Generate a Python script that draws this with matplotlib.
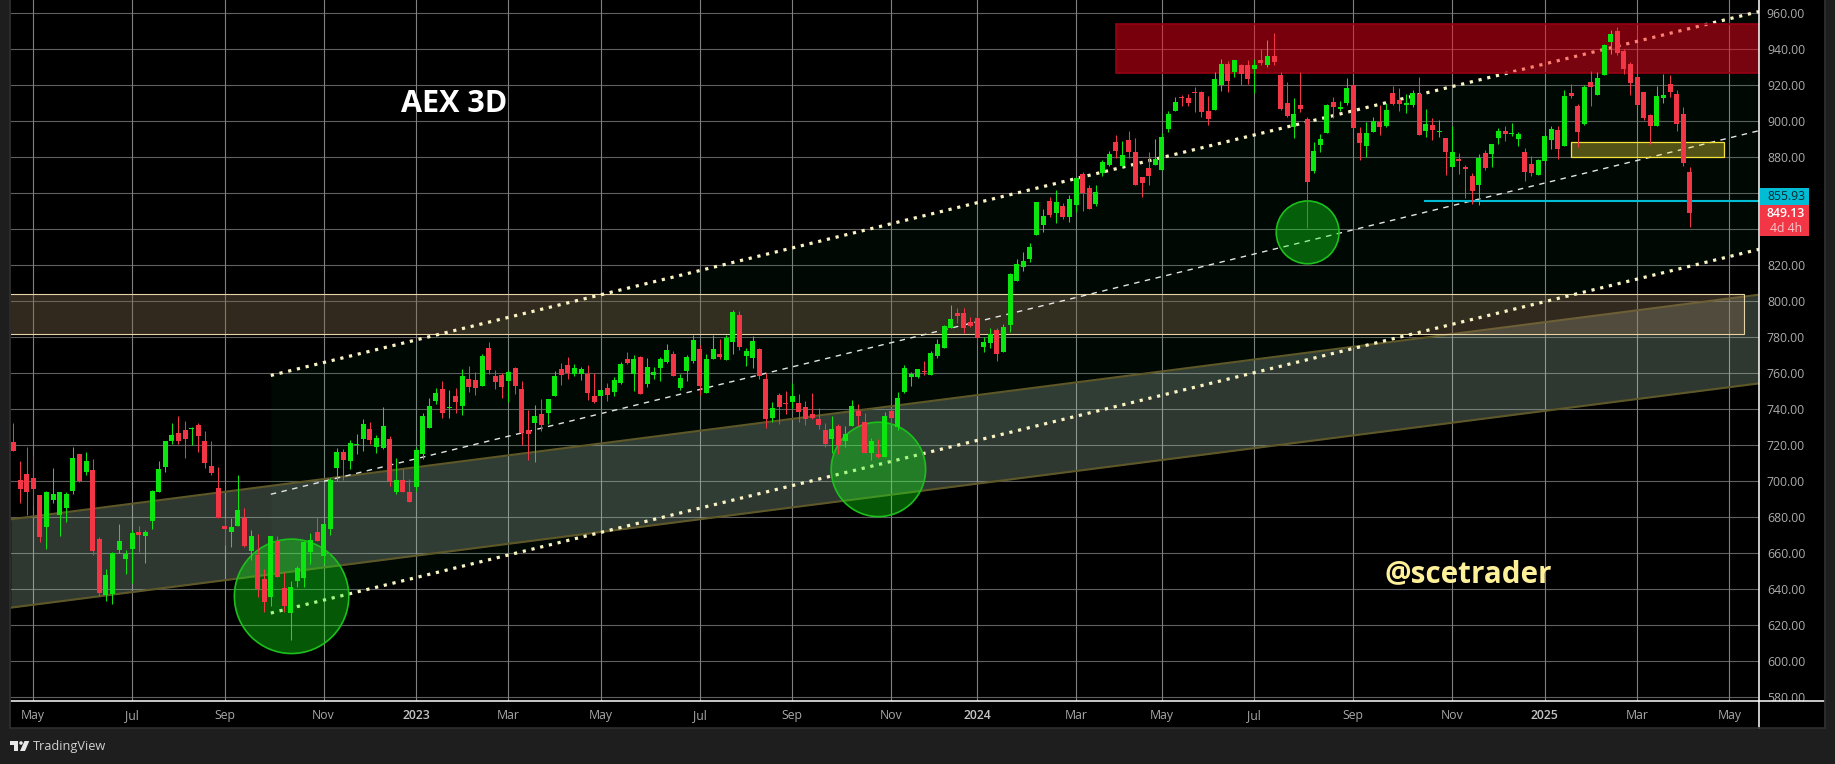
import matplotlib
matplotlib.use('Agg')
import matplotlib.pyplot as plt
import numpy as np
from matplotlib.patches import Rectangle, Ellipse, Polygon

W, H = 1835, 764
plt.rcParams['font.family'] = ['Open Sans', 'DejaVu Sans']

# AEX 3D candles. R = red, G = green
dirs = ("RRRRRGGGGGRGRRGGGGGRGGGGGRRGRRRRRGGRGRRGRRGGGGRGGGRGGGRGGRGRR"
        "GGGGRGRGRRGRRRGRRRGRGGRRGGRRGRGGRGRGGGGRGGGRGGRGGRGGRRGRRGRRRRRGR"
        "GGRRGRGRGGGGRGGGGRRRRGGRGGGGGGGRGRGGRRGGGRGRRRRGGGGRRRRRGGRGRRGRGRRRGRRGGGRGGRRGGRGRRGGRGRGRGRRRGRGGRGGRRGGGRGRRGRGGGRRRRRRGGRRRR")

highs = [732.6,711.3,719.1,714.6,692.4,694.6,707.4,694.1,694.1,719.1,
         715.2,716.3,712.4,669.1,651.3,660.7,676.3,661.9,673.0,675.2,
         673.0,695.2,711.3,722.4,732.4,736.3,733.5,730.2,732.4,728.0,
         722.4,708.0,679.6,679.6,703.5,685.2,673.0,670.7,651.3,669.6,
         669.6,649.6,644.6,653.0,666.9,671.3,680.2,676.7,701.9,718.5,
         718.0,723.0,726.3,734.6,733.0,725.7,741.3,725.2,713.0,706.9,
         701.3,719.1,738.0,746.3,751.9,755.7,750.7,751.9,762.4,764.1,
         760.7,770.7,777.4,761.9,760.2,761.9,763.5,755.7,739.6,742.4,
         745.7,745.7,761.3,765.7,769.1,765.2,763.5,764.6,760.2,750.7,
         754.6,758.0,766.3,771.9,770.2,769.6,768.5,763.5,769.1,776.3,
         772.4,759.6,770.2,781.3,775.7,770.7,781.3,779.1,781.3,795.2,
         794.6,774.1,780.7,774.1,760.2,744.1,749.1,750.2,754.6,748.5,
         744.6,749.1,740.7,732.4,736.3,731.9,730.8,745.2,743.0,738.0,
         724.1,723.5,738.5,740.8,749.7,764.7,760.8,762.4,766.9,772.4,
         779.1,786.9,798.0,796.3,796.3,791.3,791.9,780.2,785.2,785.2,
         787.4,815.8,823.5,827.4,832.4,855.2,851.3,858.0,861.9,854.6,
         859.1,869.1,871.9,864.6,864.6,878.5,883.5,892.4,889.1,894.6,
         890.7,869.1,883.0,890.2,893.3,905.7,913.5,914.6,915.2,919.1,
         916.9,914.1,927.4,934.6,933.5,934.1,931.9,934.1,934.6,940.2,
         945.2,949.1,927.4,921.9,913.0,927.4,902.4,888.5,893.0,909.6,
         913.5,911.3,924.1,920.2,896.9,899.6,902.4,909.1,910.2,919.6,
         918.5,915.2,917.4,924.6,906.9,901.9,900.7,890.7,897.4,882.4,
         875.7,871.3,881.9,884.1,887.4,896.3,897.4,899.1,894.1,885.2,
         880.7,879.1,893.0,897.4,897.4,917.4,920.7,909.6,920.2,928.0,
         927.4,943.0,950.7,952.4,940.2,933.0,932.4,916.3,904.1,919.6,
         926.3,925.7,917.4,908.0,874.6]

body_tops = [721.9,700.7,704.1,701.9,692.4,694.1,693.0,694.1,693.0,713.0,
             715.2,711.3,706.3,668.0,648.0,660.2,666.9,659.6,671.3,671.9,
             671.9,694.6,706.9,722.4,725.7,726.9,728.5,729.4,731.3,722.4,
             708.5,696.3,675.2,674.6,684.1,679.6,669.6,659.1,645.7,669.6,
             666.9,640.7,641.3,651.9,666.3,667.4,671.9,676.3,700.7,716.3,
             716.3,721.3,720.7,731.9,729.1,724.1,730.7,723.5,700.7,700.7,
             694.1,717.4,736.3,741.9,749.1,751.3,741.3,747.4,758.5,756.9,
             756.3,769.6,774.1,758.5,759.1,760.7,763.0,751.3,728.5,736.3,
             737.4,745.7,758.5,762.4,764.6,763.0,762.4,759.6,747.4,750.7,
             751.9,756.3,765.2,768.0,768.0,769.1,763.5,760.7,768.0,773.0,
             770.7,757.4,769.1,778.5,773.5,768.0,773.5,770.7,779.6,794.1,
             792.4,772.4,778.0,773.5,756.9,740.7,748.0,743.5,747.4,743.5,
             741.3,737.4,734.6,728.5,729.1,730.7,726.3,741.9,739.1,733.0,
             722.4,715.2,736.3,739.1,746.3,763.0,759.7,762.4,761.1,771.3,
             776.3,786.3,790.2,793.5,793.5,788.5,790.8,777.4,781.9,784.1,
             785.8,815.2,820.8,822.4,830.2,855.2,847.4,855.8,855.2,853.0,
             856.9,868.5,870.8,863.0,860.8,877.4,881.9,888.5,881.3,889.6,
             883.0,869.1,874.1,879.1,891.3,904.1,910.7,913.5,913.0,916.3,
             916.3,905.7,923.5,931.9,931.9,934.1,931.3,931.3,931.3,934.1,
             936.3,936.3,925.7,910.2,904.1,909.1,901.3,883.5,890.2,909.1,
             910.7,908.0,918.5,920.2,893.5,893.5,900.2,899.6,906.3,915.7,
             911.9,910.2,915.7,915.2,898.5,898.0,894.6,890.7,883.0,879.1,
             874.6,869.6,879.6,882.4,887.4,894.6,894.6,893.5,893.0,883.0,
             876.3,878.5,891.9,895.7,895.2,914.1,915.7,908.5,919.1,921.9,
             924.1,942.4,948.5,950.2,939.1,931.9,924.6,916.3,903.5,914.1,
             914.6,920.7,915.2,904.1,871.9]

body_bots = [716.9,695.7,694.1,695.7,669.1,674.6,689.6,681.3,685.2,694.6,
             700.0,705.2,661.3,638.0,636.9,637.4,661.9,656.9,662.4,670.2,
             669.6,678.0,694.1,708.0,722.4,722.4,723.5,728.9,725.2,710.2,
             704.6,679.8,673.5,671.9,675.2,664.1,661.3,640.2,633.0,635.7,
             646.9,630.7,626.9,644.6,646.3,660.7,666.9,658.5,673.5,707.4,
             711.9,711.3,720.2,723.5,723.0,719.1,718.5,700.0,694.1,694.1,
             688.5,696.9,715.2,729.6,744.6,738.0,740.7,744.1,741.9,752.4,
             751.9,753.0,761.9,755.2,752.4,755.7,753.0,726.9,726.3,732.4,
             731.3,738.0,747.4,759.1,760.2,759.6,759.6,749.1,744.1,747.4,
             748.0,749.6,754.6,765.7,759.6,748.5,754.1,759.1,763.0,766.3,
             758.5,751.9,761.3,766.9,753.0,749.1,768.0,769.1,767.4,777.4,
             774.6,769.6,768.5,758.5,734.6,735.2,741.3,743.0,744.1,738.5,
             734.6,735.2,731.3,720.7,723.5,720.2,722.4,730.8,736.3,715.8,
             715.8,713.5,713.5,735.2,730.2,749.7,758.0,758.0,760.8,759.1,
             769.6,774.1,785.2,791.9,785.2,786.3,779.6,774.6,776.9,770.8,
             771.9,786.9,811.3,819.1,823.5,836.9,842.4,848.0,849.1,846.9,
             846.9,853.5,860.2,851.3,854.1,871.3,875.8,883.5,875.2,883.0,
             864.6,865.7,869.6,875.7,873.0,895.7,905.7,913.0,910.2,915.8,
             905.2,901.3,906.3,920.2,922.4,927.4,926.3,923.5,929.1,932.2,
             931.3,933.0,906.9,903.0,896.9,906.9,866.3,872.4,886.9,893.5,
             908.0,906.9,910.2,896.3,888.0,886.3,894.1,896.9,897.4,909.6,
             909.6,909.1,909.1,892.4,894.6,895.2,894.0,883.0,874.6,878.0,
             873.5,861.3,864.6,874.1,881.9,890.7,893.0,893.0,890.2,871.9,
             871.3,870.2,878.0,889.6,884.6,886.3,914.1,894.1,898.5,919.1,
             914.6,925.7,944.1,938.0,929.1,921.3,909.1,901.9,897.4,897.4,
             913.0,916.3,898.5,876.9,849.13]

lows = [716.9,688.0,681.3,686.9,666.3,662.4,688.0,669.6,677.4,693.0,
        699.6,703.5,659.1,636.3,633.5,631.9,660.2,648.5,643.3,660.7,
        654.6,673.5,694.1,705.2,720.7,720.7,713.0,720.2,716.3,707.2,
        703.5,679.8,664.6,663.5,675.2,663.5,656.3,635.7,627.4,630.7,
        646.9,627.4,611.9,641.3,641.3,654.1,666.9,654.6,670.2,700.2,
        700.7,706.9,715.2,716.9,720.7,715.7,718.0,697.4,693.0,694.1,
        688.5,694.6,712.4,729.6,743.0,735.2,735.2,738.0,736.9,749.6,
        748.0,753.0,759.6,751.3,746.3,744.1,748.5,720.2,711.9,710.7,
        728.0,731.9,747.4,753.5,756.9,758.5,756.3,745.2,743.5,735.7,
        744.6,747.4,754.1,765.2,750.2,748.5,752.4,756.9,755.7,765.7,
        758.5,750.7,755.7,765.7,747.8,749.1,768.0,768.0,767.4,770.7,
        773.0,764.1,763.0,756.9,729.6,733.0,731.9,737.4,740.7,733.0,
        731.3,734.6,729.1,719.1,715.7,715.2,719.1,730.8,730.8,715.8,
        711.9,713.0,713.5,731.9,728.5,749.1,753.0,757.4,759.1,759.1,
        768.5,774.1,785.2,788.0,782.4,785.8,776.3,771.9,774.1,766.9,
        771.9,783.0,811.3,816.9,821.9,836.9,838.5,846.9,843.5,845.8,
        844.1,849.6,850.2,851.3,853.0,869.6,875.2,879.6,874.6,879.6,
        864.6,858.0,864.6,875.7,873.0,894.1,905.7,908.5,908.5,905.2,
        902.4,898.0,906.3,916.9,916.3,924.6,920.2,920.7,915.7,931.3,
        930.2,931.3,906.3,902.4,890.7,905.2,841.0,871.3,883.0,893.5,
        901.9,905.7,909.1,896.3,878.5,880.2,894.1,892.4,896.9,909.1,
        905.7,904.6,908.0,892.4,891.3,889.6,891.3,870.2,874.6,870.7,
        857.4,854.1,853.5,873.0,874.6,887.4,889.1,891.9,886.3,866.9,
        869.6,870.2,875.7,884.6,879.1,886.3,913.0,885.7,898.0,908.5,
        914.6,925.7,937.4,936.9,926.3,914.6,909.1,900.7,887.4,897.4,
        910.2,913.5,894.6,875.2,841.3]

price_ticks = list(range(580, 961, 20))
hidden_ticks = [840, 860]  # sit under the last price tags
month_pos = [3, 18, 32, 47, 61, 75, 89, 104, 118, 133, 146, 161, 174, 188, 203, 218, 232, 246, 260]
month_labels = ['May', 'Jul', 'Sep', 'Nov', '2023', 'Mar', 'May', 'Jul', 'Sep', 'Nov', '2024',
                'Mar', 'May', 'Jul', 'Sep', 'Nov', '2025', 'Mar', 'May']

# drawings on the chart
chan_x = [39, 264.5]
chan_top = [758.8, 961.0]
chan_mid = [692.8, 894.8]
chan_bot = [626.8, 828.9]
band_x = [-0.4, 264.5]
band_top = [678.9, 803.7]
band_bot = [629.8, 754.4]
circles = [(42.15, 636.1, 57.2), (131.06, 706.6, 47.2), (196.1, 838.3, 31.4)]  # idx, price, radius px

X0, DX = 13.4, 6.6        # px of candle 0, px per candle
Y0, DY = 13.3, 1.8        # px of 960, px per point
CHART_R, CHART_B, PANEL_R, FRAME_B = 1759, 701, 1824, 728
GREEN, RED = '#0ce60f', '#f23645'

def fx(px):
    return px / W

def fy(py):
    return 1 - py / H

def price_at(py):
    return 960 - (py - Y0) / DY

def idx_at(px):
    return (px - X0) / DX

fig = plt.figure(figsize=(W / 100, H / 100), dpi=100, facecolor='#1e1e1e')

ax = fig.add_axes([fx(11), fy(CHART_B), fx(CHART_R - 11), CHART_B / H])
ax_p = fig.add_axes([fx(CHART_R), fy(CHART_B), fx(PANEL_R - CHART_R), CHART_B / H])
ax_t = fig.add_axes([fx(11), fy(FRAME_B), fx(PANEL_R - 11), (FRAME_B - CHART_B) / H])

xlim = (idx_at(11), idx_at(CHART_R))
ylim = (price_at(CHART_B), price_at(0))
ax.set_xlim(xlim)
ax.set_ylim(ylim)
ax_p.set_ylim(ylim)
ax_p.set_xlim(0, 1)
ax_t.set_xlim(idx_at(11), idx_at(PANEL_R))
ax_t.set_ylim(0, 1)
for a in (ax, ax_p, ax_t):
    a.set_facecolor('black')
    a.set_xticks([])
    a.set_yticks([])
    for s in a.spines.values():
        s.set_visible(False)

# grid
for p in price_ticks:
    ax.axhline(p, color='#5f5f5f', lw=0.8, zorder=1)
for m in month_pos:
    ax.axvline(m, color='#808080', lw=0.8, zorder=1)

# channel fill and big rising band
ax.fill_between(chan_x, chan_bot, chan_top, color='#00a050', alpha=0.05, lw=0, zorder=1.5)
ax.fill_between(band_x, band_bot, band_top, color='#bcdcc4', alpha=0.25, lw=0, zorder=2)
ax.plot(band_x, band_top, color='#5e5828', lw=1.5, zorder=2.1)
ax.plot(band_x, band_bot, color='#5e5828', lw=1.5, zorder=2.1)

# brown box
ax.add_patch(Rectangle((idx_at(8), 781.7), idx_at(1743.7) - idx_at(8), 22.2, fc=(0.525, 0.431, 0.31, 0.38),
                       ec='#e6d4a8', lw=0.8, zorder=2.5))

# channel lines
for vals in (chan_top, chan_bot):
    ax.plot(chan_x, vals, color='#fbf3c4', lw=2.3, ls=(0, (1, 1.8)), dash_capstyle='butt', zorder=3)
ax.plot(chan_x, chan_mid, color='#e4e4e4', lw=1.0, ls=(0, (3.95, 3.95)), dash_capstyle='butt', zorder=3)

# red and yellow zones
ax.add_patch(Rectangle((idx_at(1116), 926.7), idx_at(1770) - idx_at(1116), 27.3, fc=(1, 0, 0.1, 0.47),
                       ec=(0.6, 0, 0.08, 0.9), lw=1.3, zorder=4))
ax.add_patch(Rectangle((idx_at(1571.3), 880.3), idx_at(1723.5) - idx_at(1571.3), 8.0, fc=(1, 0.92, 0.24, 0.33),
                       ec='#f5e33a', lw=0.9, zorder=4))

# green circles
for ci, cp, r in circles:
    ax.add_patch(Ellipse((ci, cp), 2 * r / DX, 2 * r / DY, fc=(0.06, 1, 0.08, 0.35), ec='#1cc01c', lw=1.2, zorder=4))

# cyan level
ax.plot([idx_at(1425), idx_at(CHART_R)], [855.93, 855.93], color='#00bcd4', lw=1.5, zorder=4.5)

# candles
x = np.arange(len(highs))
hi, lo, top, bot = map(np.array, (highs, lows, body_tops, body_bots))
up = np.array([d == 'G' for d in dirs])
for mask, col in ((up, GREEN), (~up, RED)):
    ax.vlines(x[mask], lo[mask], hi[mask], color=col, lw=0.75, zorder=5)
    ax.bar(x[mask], (top - bot)[mask], bottom=bot[mask], width=5 / DX, color=col, lw=0, zorder=6)

# price scale
for p in price_ticks:
    if p in hidden_ticks:
        continue
    ax_p.text(0.415, p - 0.6, '%.2f' % p, color='#ababab', fontsize=8.8, ha='center', va='center', clip_on=True)

# time scale
for m, lab in zip(month_pos, month_labels):
    yr = lab.isdigit()
    ax_t.text(m, 0.46, lab, color='#c4c4c4' if yr else '#a8a8a8', fontsize=8.8, ha='center', va='center',
              fontweight='semibold' if yr else 'normal')

# axis lines
fig.add_artist(plt.Line2D([fx(11), fx(PANEL_R)], [fy(CHART_B), fy(CHART_B)], color='white', lw=1.1))
fig.add_artist(plt.Line2D([fx(CHART_R), fx(CHART_R)], [fy(0), fy(FRAME_B)], color='white', lw=1.1))
# panel frame
fig.add_artist(plt.Line2D([fx(10), fx(10)], [fy(0), fy(FRAME_B)], color='#2e2e2e', lw=1.2))
fig.add_artist(plt.Line2D([fx(10), fx(PANEL_R + 1)], [fy(FRAME_B), fy(FRAME_B)], color='#2e2e2e', lw=1.2))
fig.add_artist(plt.Line2D([fx(PANEL_R + 1), fx(PANEL_R + 1)], [fy(0), fy(FRAME_B)], color='#2e2e2e', lw=1.2))

# last price tags
fig.add_artist(Rectangle((fx(1760), fy(205)), fx(48.5), 17 / H, fc='#00bcd4', ec='none', zorder=5))
fig.add_artist(Rectangle((fx(1760), fy(236)), fx(48.5), 31 / H, fc=RED, ec='none', zorder=5))
fig.text(fx(1786), fy(197), '855.93', color='#0b2a30', fontsize=8.8, ha='center', va='center', zorder=6)
fig.text(fx(1786), fy(213.5), '849.13', color='white', fontsize=8.8, ha='center', va='center', fontweight='semibold', zorder=6)
fig.text(fx(1786), fy(228), '4d 4h', color='#f7c4c9', fontsize=8.8, ha='center', va='center', zorder=6)

# titles
fig.text(fx(454.5), fy(104), 'AEX 3D', color='white', fontsize=22, fontweight='bold', ha='center', va='center', zorder=6)
fig.text(fx(1468), fy(574), '@scetrader', color='#fff09a', fontsize=21.3, fontweight='bold', ha='center', va='center', zorder=6)

# footer logo
fig.add_artist(Polygon([(fx(10), fy(741)), (fx(17.5), fy(741)), (fx(17.5), fy(751)), (fx(14), fy(751)),
                        (fx(14), fy(744.5)), (fx(10), fy(744.5))], closed=True, fc='#e8e8e8', ec='none'))
fig.add_artist(Polygon([(fx(24.5), fy(741)), (fx(29.3), fy(741)), (fx(25), fy(751)), (fx(20), fy(751))],
                       closed=True, fc='#e8e8e8', ec='none'))
fig.add_artist(Ellipse((fx(21), fy(743)), fx(3.6), 3.6 / H, fc='#e8e8e8', ec='none'))
fig.text(fx(33), fy(746.5), 'TradingView', color='#d0d0d0', fontsize=9.2, ha='left', va='center')

fig.savefig('out.png', dpi=100, facecolor=fig.get_facecolor())
